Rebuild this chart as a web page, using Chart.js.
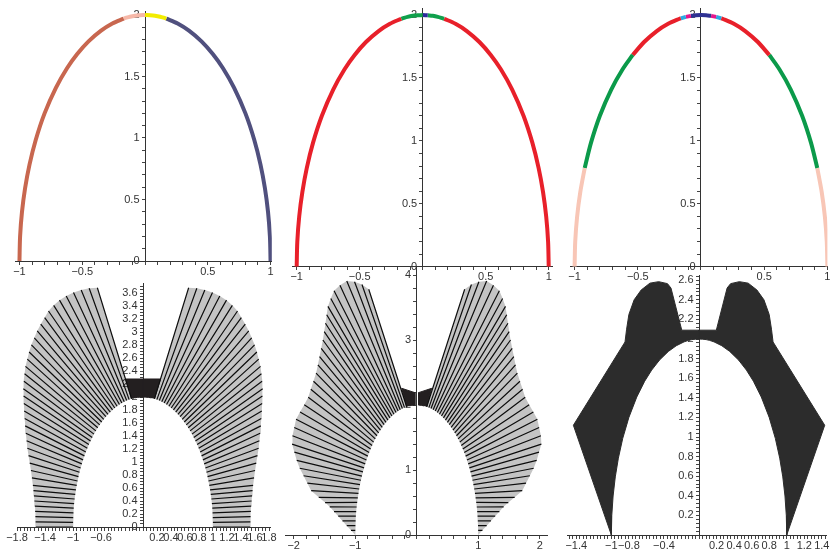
<!DOCTYPE html>
<html>
<head>
<meta charset="utf-8">
<script src="https://cdn.jsdelivr.net/npm/chart.js@4.4.0/dist/chart.umd.min.js"></script>
<style>
html, body { margin: 0; padding: 0; background: #fff; }
#wrap { position: relative; width: 830px; height: 554px; }
canvas { position: absolute; left: 0; top: 0; }
</style>
</head>
<body>
<div id="wrap">
<canvas id="tl" width="830" height="554"></canvas>
<canvas id="tm" width="830" height="554"></canvas>
<canvas id="tr" width="830" height="554"></canvas>
<canvas id="bl" width="830" height="554"></canvas>
<canvas id="bm" width="830" height="554"></canvas>
<canvas id="br" width="830" height="554"></canvas>
</div>
<script>
// left half of the arch (right half is its mirror)
var archX = [-1, -0.995, -0.98, -0.955, -0.92, -0.87, -0.8, -0.71, -0.62, -0.54, -0.45, -0.35, -0.26, -0.17, -0.16, -0.12, -0.08, -0.04, 0];
var archY = [0, 0.2, 0.398, 0.593, 0.784, 0.986, 1.2, 1.408, 1.569, 1.683, 1.786, 1.873, 1.931, 1.971, 1.974, 1.986, 1.994, 1.998, 2];

// where the colour changes along the arch
var tlBreaks = [-1, -0.17, 0, 0.17, 1];
var tmBreaks = [-1, -0.17, 0, 0.04, 0.17, 1];
var trBreaks = [-1, -0.92, -0.54, -0.16, -0.12, -0.08, 0.08, 0.12, 0.16, 0.54, 0.92, 1];

// line families of the lower plots, left half: start on the arch, end on the outer edge
var innerX = [-1, -0.999, -0.997, -0.994, -0.990, -0.984, -0.977, -0.968, -0.958, -0.947, -0.935, -0.922, -0.907, -0.891, -0.874, -0.856, -0.837, -0.817, -0.795, -0.773, -0.749, -0.725, -0.700, -0.673, -0.646, -0.618, -0.589, -0.560, -0.530, -0.499, -0.467, -0.435, -0.403, -0.370, -0.336, -0.302, -0.268, -0.233, -0.198, -0.163];
var innerY = [0, 0.072, 0.145, 0.217, 0.289, 0.360, 0.431, 0.501, 0.571, 0.640, 0.708, 0.775, 0.842, 0.907, 0.971, 1.033, 1.094, 1.154, 1.213, 1.269, 1.324, 1.378, 1.429, 1.479, 1.527, 1.572, 1.615, 1.657, 1.697, 1.733, 1.768, 1.801, 1.831, 1.858, 1.884, 1.907, 1.927, 1.945, 1.960, 1.973];

var blOuterX = [-1.53, -1.534, -1.537, -1.541, -1.545, -1.552, -1.558, -1.565, -1.573, -1.587, -1.601, -1.618, -1.635, -1.652, -1.663, -1.674, -1.683, -1.690, -1.697, -1.702, -1.706, -1.710, -1.701, -1.692, -1.679, -1.653, -1.627, -1.594, -1.553, -1.511, -1.461, -1.405, -1.350, -1.276, -1.193, -1.097, -0.993, -0.883, -0.769, -0.652];
var blOuterY = [0, 0.08, 0.16, 0.24, 0.32, 0.40, 0.48, 0.56, 0.64, 0.755, 0.869, 0.983, 1.098, 1.212, 1.327, 1.442, 1.556, 1.670, 1.785, 1.900, 2.014, 2.128, 2.243, 2.358, 2.471, 2.582, 2.693, 2.802, 2.910, 3.017, 3.121, 3.222, 3.323, 3.410, 3.490, 3.554, 3.609, 3.647, 3.672, 3.680];

var bmOuterX = [-1.0, -1.069, -1.138, -1.207, -1.276, -1.345, -1.414, -1.49, -1.593, -1.716, -1.778, -1.84, -1.902, -1.951, -1.989, -2.027, -2.02, -1.991, -1.962, -1.897, -1.829, -1.764, -1.722, -1.679, -1.637, -1.607, -1.58, -1.553, -1.526, -1.504, -1.484, -1.464, -1.444, -1.397, -1.344, -1.248, -1.137, -1.011, -0.89, -0.78];
var bmOuterY = [0, 0.072, 0.144, 0.217, 0.289, 0.361, 0.433, 0.499, 0.579, 0.682, 0.797, 0.912, 1.027, 1.148, 1.274, 1.399, 1.526, 1.654, 1.781, 1.893, 2.005, 2.118, 2.242, 2.366, 2.49, 2.617, 2.745, 2.872, 3.0, 3.129, 3.258, 3.388, 3.517, 3.639, 3.758, 3.841, 3.909, 3.897, 3.854, 3.78];

// dense dark caps near the top of the arch
var blBlobX = [-0.163, -0.25, 0, 0, -0.04, -0.08, -0.12];
var blBlobY = [1.973, 2.277, 2.277, 2, 1.998, 1.994, 1.986];
var bmBlobX = [-0.163, -0.244, -0.03, -0.03, -0.08, -0.12];
var bmBlobY = [1.973, 2.257, 2.19, 1.999, 1.994, 1.986];

// outer edge of the solid region in the last plot
var brOuterX = [-1.0, -1.433, -0.844, -0.826, -0.80, -0.74, -0.66, -0.56, -0.46, -0.36, -0.32, -0.197, 0];
var brOuterY = [0, 1.12, 1.97, 2.10, 2.25, 2.40, 2.50, 2.57, 2.585, 2.565, 2.52, 2.09, 2.09];

// tick labels
var topXLabels = [-1, -0.5, 0.5, 1];
var topYLabels = [0, 0.5, 1, 1.5, 2];
var blXLabels = [-1.8, -1.4, -1, -0.6, 0.2, 0.4, 0.6, 0.8, 1, 1.2, 1.4, 1.6, 1.8];
var blYLabels = [0, 0.2, 0.4, 0.6, 0.8, 1, 1.2, 1.4, 1.6, 1.8, 2, 2.2, 2.4, 2.6, 2.8, 3, 3.2, 3.4, 3.6];
var bmXLabels = [-2, -1, 1, 2];
var bmYLabels = [0, 1, 2, 3, 4];
var brXLabels = [-1.4, -1, -0.8, -0.4, 0.2, 0.4, 0.6, 0.8, 1, 1.2, 1.4];
var brYLabels = [0.2, 0.4, 0.6, 0.8, 1, 1.2, 1.4, 1.6, 1.8, 2, 2.2, 2.4, 2.6];

Chart.defaults.font.family = '"Liberation Sans", Arial, sans-serif';
Chart.defaults.font.size = 11;
Chart.defaults.color = '#333';

function steps(a, b, st) {
    var out = [];
    for (var i = 0; a + i * st <= b + 1e-9; i++) out.push(Math.round((a + i * st) * 1000) / 1000);
    return out;
}
function fmt(v) {
    v = Math.round(v * 100) / 100;
    return (v < 0 ? '\u2212' : '') + String(Math.abs(v));
}

function axis(min, max, tickVals, labels, pos, onTop) {
    var vertical = pos.x !== undefined;
    return {
        type: 'linear', min: min, max: max, position: pos, z: onTop ? 1 : 0,
        afterBuildTicks: function (s) { s.ticks = tickVals.map(function (v) { return { value: v }; }); },
        afterFit: function (s) {
            if (s.isHorizontal()) s.height = 0; else s.width = 0;
            s.paddingLeft = s.paddingRight = s.paddingTop = s.paddingBottom = 0;
        },
        grid: { drawOnChartArea: false, drawTicks: true, tickLength: 3, tickColor: '#444', color: '#444' },
        border: { display: true, color: '#333', width: 1 },
        ticks: {
            autoSkip: false, maxRotation: 0, minRotation: 0, padding: 1, color: '#333',
            callback: function (v) {
                for (var i = 0; i < labels.length; i++) {
                    if (Math.abs(labels[i] - v) < 1e-6) return fmt(v) + (vertical ? '\u2002' : '');
                }
                return '';
            }
        }
    };
}

function panel(id, box, xa, ya, datasets) {
    new Chart(document.getElementById(id), {
        type: 'scatter',
        data: { datasets: datasets },
        options: {
            responsive: false, animation: false, devicePixelRatio: 1,
            layout: { autoPadding: false, padding: { left: box[0], top: box[1], right: 830 - box[2], bottom: 554 - box[3] } },
            plugins: { legend: { display: false }, tooltip: { enabled: false } },
            scales: { x: xa, y: ya }
        }
    });
}

// full arch = left half + mirror
var fullX = archX.slice(), fullY = archY.slice();
for (var i = archX.length - 2; i >= 0; i--) { fullX.push(-archX[i]); fullY.push(archY[i]); }

function arcPieces(breaks, colors) {
    var sets = [];
    for (var p = 0; p < breaks.length - 1; p++) {
        var pts = [];
        for (var k = 0; k < fullX.length; k++) {
            if (fullX[k] >= breaks[p] - 1e-9 && fullX[k] <= breaks[p + 1] + 1e-9) pts.push({ x: fullX[k], y: fullY[k] });
        }
        sets.push({ data: pts, showLine: true, borderColor: colors[p], borderWidth: 4, pointRadius: 0, tension: 0.3, borderCapStyle: 'butt' });
    }
    return sets;
}

function fan(ox, oy, sign) {
    var d = [];
    for (var k = 0; k < innerX.length; k++) {
        d.push({ x: sign * innerX[k], y: innerY[k] }, { x: sign * ox[k], y: oy[k] }, { x: sign * ox[k], y: null });
    }
    return { data: d, showLine: true, borderColor: '#111', borderWidth: 1.2, pointRadius: 0, tension: 0, spanGaps: false };
}

function shape(xs, ys, sign, color) {
    var d = [];
    for (var k = 0; k < xs.length; k++) d.push({ x: sign * xs[k], y: ys[k] });
    return { data: d, showLine: true, fill: 'shape', backgroundColor: color, borderColor: color, borderWidth: 1, pointRadius: 0, tension: 0 };
}

// faint wash under a fan: its outer ends, then back down the inner ends
function wash(ox, oy, sign) {
    var xs = ox.slice(), ys = oy.slice();
    for (var k = innerX.length - 1; k >= 0; k--) { xs.push(innerX[k]); ys.push(innerY[k]); }
    var s = shape(xs, ys, sign, 'rgba(0,0,0,0.23)');
    s.borderWidth = 0;
    return s;
}

function region(sign) {
    // outer edge then back down along the arch
    var xs = brOuterX.slice(), ys = brOuterY.slice();
    for (var k = archX.length - 1; k >= 0; k--) { xs.push(archX[k]); ys.push(archY[k]); }
    return shape(xs, ys, sign, '#2c2c2c');
}

var topX = steps(-1, 1, 0.1), topY = steps(0, 2, 0.1);

panel('tl', [15.7, 11.3, 271.8, 261],
    axis(-1.03, 1.01, topX, topXLabels, { y: 0 }, true), axis(0, 2.03, topY, topYLabels, { x: 0 }, true),
    arcPieces(tlBreaks, ['#c8674f', '#f6b8a8', '#f2ec00', '#50507e']));

panel('tm', [292.9, 8.8, 552.5, 266.7],
    axis(-1.03, 1.03, topX, topXLabels, { y: 0 }, true), axis(0, 2.05, topY, topYLabels, { x: 0 }, true),
    arcPieces(tmBreaks, ['#e8202a', '#10a04c', '#2a2a9a', '#10a04c', '#e8202a']));

panel('tr', [570.8, 8.8, 827.4, 266.7],
    axis(-1.03, 1.0, topX, topXLabels, { y: 0 }, true), axis(0, 2.05, topY, topYLabels, { x: 0 }, true),
    arcPieces(trBreaks, ['#f8c6b6', '#0b9a4a', '#e8202a', '#2aaae2', '#e4168a', '#2e3192', '#e4168a', '#2aaae2', '#e8202a', '#0b9a4a', '#f8c6b6']));

panel('bl', [17, 283.25, 270.4, 527],
    axis(-1.8, 1.82, steps(-1.8, 1.8, 0.05), blXLabels, { y: 0 }), axis(0, 3.75, steps(0, 3.7, 0.05), blYLabels, { x: 0 }),
    [wash(blOuterX, blOuterY, 1), wash(blOuterX, blOuterY, -1),
     fan(blOuterX, blOuterY, 1), fan(blOuterX, blOuterY, -1),
     shape(blBlobX, blBlobY, 1, '#231f20'), shape(blBlobX, blBlobY, -1, '#231f20')]);

panel('bm', [285.1, 267.2, 547.7, 535],
    axis(-2.14, 2.13, steps(-2, 2, 0.2), bmXLabels, { y: 0 }), axis(0, 4.12, steps(0, 4, 0.2), bmYLabels, { x: 0 }),
    [wash(bmOuterX, bmOuterY, 1), wash(bmOuterX, bmOuterY, -1),
     fan(bmOuterX, bmOuterY, 1), fan(bmOuterX, bmOuterY, -1),
     shape(bmBlobX, bmBlobY, 1, '#231f20'), shape(bmBlobX, bmBlobY, -1, '#231f20')]);

panel('br', [567.5, 275.3, 826.2, 535],
    axis(-1.5, 1.45, steps(-1.48, 1.44, 0.04), brXLabels, { y: 0 }), axis(0, 2.65, steps(0.04, 2.64, 0.04), brYLabels, { x: 0 }),
    [region(1), region(-1)]);
</script>
</body>
</html>
